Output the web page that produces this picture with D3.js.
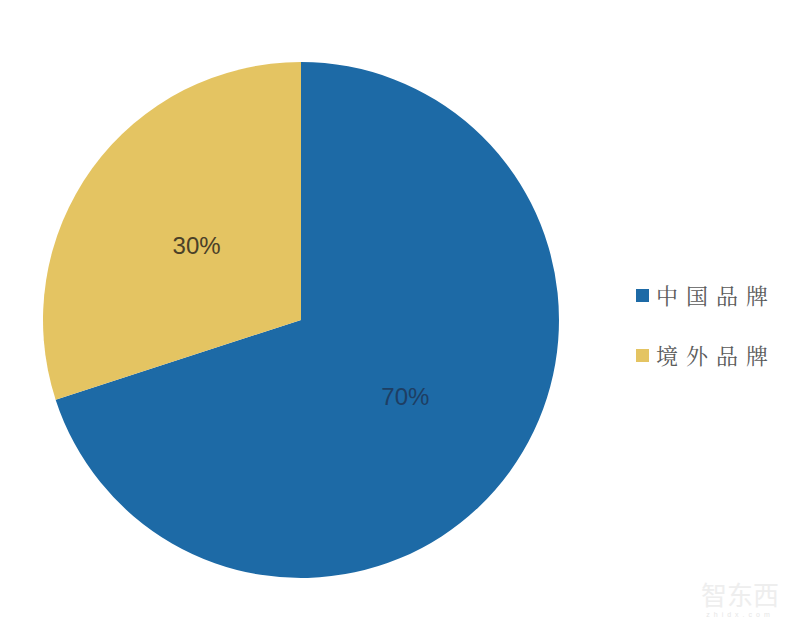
<!DOCTYPE html>
<html><head><meta charset="utf-8">
<script src="https://cdn.jsdelivr.net/npm/d3@7"></script>
<style>body{margin:0;background:#fff;}</style>
</head><body>
<svg id="c" width="800" height="632"></svg>
<script>
const categories = ["中国品牌", "境外品牌"];
const values = [70, 30];
const colors = ["#1D6AA6", "#E4C462"];

const svg = d3.select("#c");
const cx = 301, cy = 320, r = 258;
const pie = d3.pie().sort(null).value(d => d.v);
const arcs = pie(categories.map((c, i) => ({c, v: values[i]})));
const arc = d3.arc().innerRadius(0).outerRadius(r);
const g = svg.append("g").attr("transform", `translate(${cx},${cy})`);
g.selectAll("path").data(arcs).enter().append("path")
  .attr("d", arc).attr("fill", (d, i) => colors[i]);
g.selectAll("text").data(arcs).enter().append("text")
  .attr("transform", d => `translate(${arc.centroid(d)})`)
  .attr("text-anchor", "middle").attr("dy", "0.4em")
  .attr("font-family", "Arial, 'Liberation Sans', sans-serif")
  .attr("font-size", 24)
  .attr("fill", (d, i) => i === 0 ? "#1E3E63" : "#4a4028")
  .text(d => d.data.v + "%");

const lg = svg.append("g");
categories.forEach((c, i) => {
  const y = 296 + i * 60;
  lg.append("rect").attr("x", 636).attr("y", y - 7).attr("width", 13).attr("height", 13).attr("fill", colors[i]);
  lg.append("text").attr("x", 656).attr("y", y).attr("dy", "0.35em")
    .attr("font-family", "'Noto Serif CJK SC','Noto Sans CJK SC', sans-serif")
    .attr("font-size", 22).attr("letter-spacing", 8).attr("fill", "#5a5a5a")
    .text(c);
});

// watermark
svg.append("text").attr("x", 740).attr("y", 605).attr("text-anchor", "middle")
  .attr("font-family", "'Noto Sans CJK SC', sans-serif").attr("font-size", 26)
  .attr("fill", "#eeeeee").text("智东西");
svg.append("text").attr("x", 740).attr("y", 617).attr("text-anchor", "middle")
  .attr("font-family", "Arial, sans-serif").attr("font-size", 7).attr("letter-spacing", 4)
  .attr("fill", "#e6e6e6").text("zhidx.com");
</script>
</body></html>
